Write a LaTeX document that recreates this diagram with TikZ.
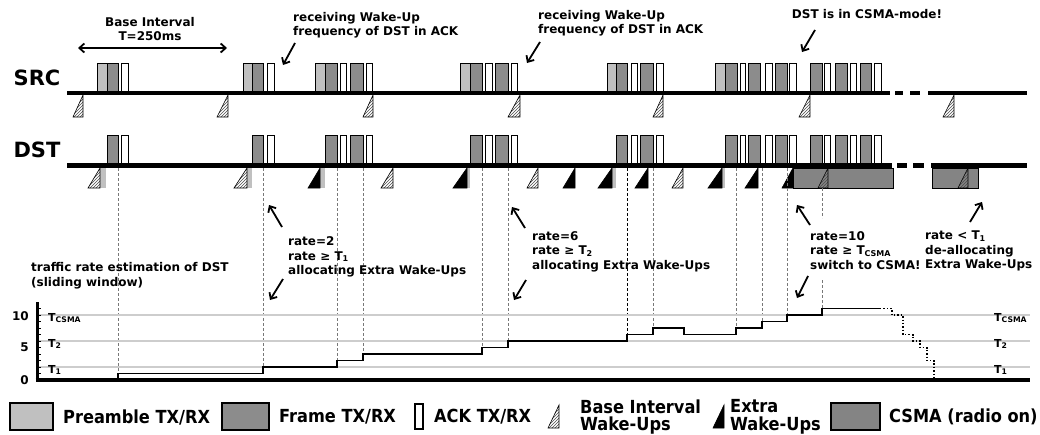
\documentclass[tikz,border=0pt]{standalone}
\usepackage{fontspec}
\setmainfont{DejaVu Sans}
\newfontfamily\condfont{DejaVu Sans Condensed}
\usetikzlibrary{arrows.meta,patterns,positioning}
\definecolor{pregray}{RGB}{192,192,192}
\definecolor{frmgray}{RGB}{140,140,140}
\definecolor{csmagray}{RGB}{132,132,132}
\definecolor{gridgray}{RGB}{205,205,205}
\definecolor{guidegray}{RGB}{120,120,120}
\newcommand\annfont{\fontsize{12}{14.5}\selectfont\bfseries}
\newcommand\legfont{\condfont\fontsize{18}{17.5}\selectfont\bfseries}
\newcommand\rowfont{\fontsize{21}{24}\selectfont\bfseries}
\newcommand\axfont{\fontsize{11}{13}\selectfont\bfseries}

\begin{document}
\begin{tikzpicture}[
  x=1pt, y=-1pt,
  >={Straight Barb[length=5pt,width=9pt]},
  preamble/.style={draw=black, fill=pregray, line width=1pt},
  frm/.style={draw=black, fill=frmgray, line width=1pt},
  ackbox/.style={draw=black, fill=white, line width=1pt},
  hatchtri/.style={draw=black, line width=0.6pt, pattern={north east lines}, pattern color=black!70},
  blacktri/.style={draw=black, fill=black, line width=0.6pt},
  rxstrip/.style={fill=pregray},
  csma/.style={draw=black, fill=csmagray, line width=0.8pt},
  timeline/.style={line width=4.5pt},
  guide/.style={draw=guidegray, dash pattern=on 3pt off 2pt, line width=0.9pt},
  gridline/.style={draw=gridgray, line width=1.5pt},
  rate/.style={line width=1.4pt},
  callout/.style={->, line width=1.8pt},
  note/.style={font=\annfont, align=left, anchor=north west, inner sep=0pt},
  legend/.style={font=\legfont, align=left, anchor=west, inner sep=0pt}
]
  \useasboundingbox[fill=white] (0,0) rectangle (1040,434);

  % Row labels
  \node[font=\rowfont] (src) at (37,78) {SRC};
  \node[font=\rowfont] (dst) at (37,150) {DST};

  % Time lines
  \foreach \a/\b in {67/890, 895/903, 910/920, 928/1027}
    \draw[timeline] (\a,93) -- (\b,93);
  \foreach \a/\b in {67/892, 897/907, 913/924, 931/1027}
    \draw[timeline] (\a,165.5) -- (\b,165.5);

  % CSMA periods of DST
  \draw[csma] (793,168) rectangle (893,188);
  \draw[csma] (932,168) rectangle (978,188);

  % SRC packets
  \foreach \a/\b in {97/107, 243/252, 315/325, 460/470, 607/616, 715/725}
    \draw[preamble] (\a,63) rectangle (\b,91);
  \foreach \a/\b in {107/118, 252/263, 325/337, 350/363, 470/482, 495/508, 616/627, 640/653,
                     725/737, 748/760, 775/787, 810/822, 835/847, 860/871}
    \draw[frm] (\a,63) rectangle (\b,91);
  \foreach \a/\b in {121/128, 267/274, 340/346, 366/372, 485/492, 511/517, 631/637, 656/663,
                     740/745, 765/772, 789/796, 824/830, 850/856, 874/881}
    \draw[ackbox] (\a,63) rectangle (\b,91);

  % DST packets
  \foreach \a/\b in {107/118, 252/263, 325/337, 350/363, 470/482, 495/508, 616/627, 640/653,
                     725/737, 748/760, 775/787, 810/822, 835/847, 860/871}
    \draw[frm] (\a,135) rectangle (\b,163);
  \foreach \a/\b in {121/128, 267/274, 340/346, 366/372, 485/492, 511/517, 631/637, 656/663,
                     740/745, 765/772, 789/796, 824/830, 850/856, 874/881}
    \draw[ackbox] (\a,135) rectangle (\b,163);

  % Wake-ups
  \foreach \a/\b in {73/83, 217/228, 363/373, 508/520, 653/663, 799/810, 943/954}
    \draw[hatchtri] (\b,95) -- (\b,117) -- (\a,117) -- cycle;
  \foreach \a/\b in {100/106, 247/252, 320/325, 467/470, 612/616, 722/725}
    \fill[rxstrip] (\a,168) rectangle (\b,188);
  \foreach \a/\b in {88/100, 234/247, 381/393, 527/538, 672/683, 818/828, 958/968}
    \draw[hatchtri] (\b,168) -- (\b,188) -- (\a,188) -- cycle;
  \foreach \a/\b in {308/320, 453/467, 563/575, 598/612, 635/648, 708/722, 745/758, 782/793}
    \draw[blacktri] (\b,168) -- (\b,188) -- (\a,188) -- cycle;

  % Guides from DST down to the rate estimation
  \foreach \x/\y in {118/373.5, 263/367, 337/360.5, 363/354, 482/347.5, 508/341,
                     653/328, 736/328, 762/321.5, 787/315}
    \draw[guide] (\x,168) -- (\x,\y);
  \draw[guide, draw=black] (627,168) -- (627,334.5);
  \draw[guide] (822,188) -- (822,218);
  \draw[guide] (822,280) -- (822,308.5);

  % Base interval
  \coordinate (bi1) at (78,48);
  \coordinate (bi2) at (227,48);
  \draw[callout, <->] (bi1) -- (bi2);
  \node[font=\annfont, align=center, anchor=north, inner sep=0pt] (base) at (150,17) {Base Interval\\T=250ms};

  % Notes at SRC
  \node[note] (rx1) at (293,12) {receiving Wake-Up\\frequency of DST in ACK};
  \node[note] (rx2) at (538,10) {receiving Wake-Up\\frequency of DST in ACK};
  \node[font=\annfont, anchor=north, inner sep=0pt] (mode) at (867,9) {DST is in CSMA-mode!};
  \coordinate (a1) at (295,43);
  \coordinate (a2) at (540,42);
  \coordinate (a3) at (815,30);
  \draw[callout] (a1) -- ++(-12,22);
  \draw[callout] (a2) -- ++(-13,21);
  \draw[callout] (a3) -- ++(-13,22);

  % Notes at DST
  \node[note] (rate2) at (288,236.5) {rate=2\\rate ≥ T\textsubscript{1}\\allocating Extra Wake-Ups};
  \node[note] (rate6) at (532,231) {rate=6\\rate ≥ T\textsubscript{2}\\allocating Extra Wake-Ups};
  \node[note] (rate10) at (810,231) {rate=10\\rate ≥ T\textsubscript{CSMA}\\switch to CSMA!};
  \node[note] (ratelow) at (925,231) {rate < T\textsubscript{1}\\de-allocating\\Extra Wake-Ups};
  \node[note] (traffic) at (31,262.5) {traffic rate estimation of DST\\(sliding window)};
  \coordinate (u1) at (282,227);
  \coordinate (u2) at (525,228);
  \coordinate (u3) at (810,225);
  \coordinate (u4) at (970,222);
  \draw[callout] (u1) -- ++(-13,-22);
  \draw[callout] (u2) -- ++(-13,-21);
  \draw[callout] (u3) -- ++(-13,-20);
  \draw[callout] (u4) -- ++(12,-20);
  \coordinate (d1) at (283,279);
  \coordinate (d2) at (526,280);
  \coordinate (d3) at (808,276);
  \draw[callout] (d1) -- ++(-13,21);
  \draw[callout] (d2) -- ++(-12,20);
  \draw[callout] (d3) -- ++(-11,22);

  % Rate estimation graph
  \foreach \y/\t in {367/T\textsubscript{1}, 341/T\textsubscript{2}, 315/T\textsubscript{CSMA}} {
    \draw[gridline] (37,\y) -- (1030,\y);
    \node[font=\axfont, anchor=base west, inner sep=0pt] at (48,\y+6) {\t};
    \node[font=\axfont, anchor=base west, inner sep=0pt] at (994,\y+6) {\t};
  }
  \foreach \v in {0,...,11}
    \draw[line width=0.8pt] (37,380-6.5*\v) -- (41,380-6.5*\v);
  \draw[line width=3pt] (37,302) -- (37,380);
  \draw[line width=3.5pt] (35.5,380) -- (1030,380);
  \node[font=\annfont, anchor=east, inner sep=0pt] (y10) at (29,316) {10};
  \node[font=\annfont, anchor=east, inner sep=0pt] (y5) at (29,347) {5};
  \node[font=\annfont, anchor=east, inner sep=0pt] (y0) at (29,380) {0};
  \draw[rate] (37,380) -- (118,380) -- (118,373.5) -- (263,373.5) -- (263,367) -- (337,367)
    -- (337,360.5) -- (363,360.5) -- (363,354) -- (482,354) -- (482,347.5) -- (508,347.5)
    -- (508,341) -- (627,341) -- (627,334.5) -- (653,334.5) -- (653,328) -- (684,328)
    -- (684,334.5) -- (736,334.5) -- (736,328) -- (762,328) -- (762,321.5) -- (787,321.5)
    -- (787,315) -- (822,315) -- (822,308.5) -- (880,308.5);
  \draw[rate, dotted] (880,308.5) -- (892,308.5) -- (892,315) -- (903,315) -- (903,334.5)
    -- (913,334.5) -- (913,341) -- (920,341) -- (920,347.5) -- (927,347.5) -- (927,360.5)
    -- (934,360.5) -- (934,380);

  % Legend
  \draw[preamble, line width=1.2pt] (10,403) rectangle (53,430);
  \node[legend] (lpre) at (63,417) {Preamble TX/RX};
  \draw[frm, line width=1.2pt] (222,403) rectangle (269,430);
  \node[legend] (lfrm) at (279,417) {Frame TX/RX};
  \draw[ackbox, line width=1.2pt] (415,404) rectangle (423,429);
  \node[legend] (lack) at (434,417) {ACK TX/RX};
  \draw[hatchtri] (559,405) -- (559,428) -- (548,428) -- cycle;
  \node[legend] (lbase) at (580,417) {Base Interval\\Wake-Ups};
  \draw[blacktri] (724,405) -- (724,428) -- (713,428) -- cycle;
  \node[legend] (lextra) at (730,417) {Extra\\Wake-Ups};
  \draw[csma, line width=1.2pt] (831,403) rectangle (880,430);
  \node[legend] (lcsma) at (889,417) {CSMA (radio on)};

\end{tikzpicture}
\end{document}
